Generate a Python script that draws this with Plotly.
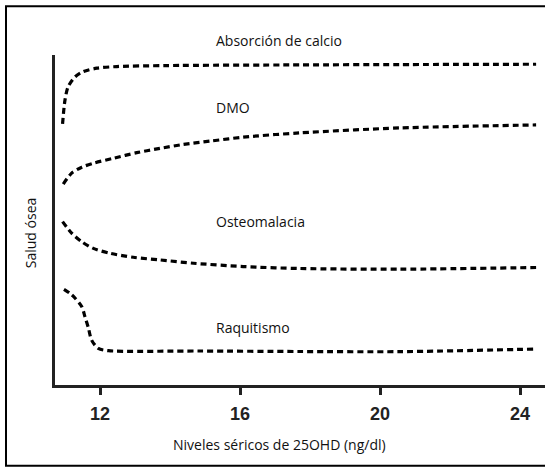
import plotly.graph_objects as go

# Data: serum 25OHD (ng/dl) vs relative bone health
abs_x = [10.93, 11.0, 11.09, 11.29, 11.51, 11.91, 12.48, 13.91, 17.71, 20.57, 24.46]
abs_y = [79.1, 86.4, 90.4, 93.4, 94.9, 96.0, 96.5, 96.8, 97.0, 97.1, 97.2]

dmo_x = [10.95, 11.19, 11.48, 11.81, 12.38, 13.05, 13.71, 14.38, 15.14, 16.09, 17.71, 20.57, 24.46]
dmo_y = [60.9, 64.2, 66.0, 67.2, 68.7, 70.4, 71.7, 72.9, 73.9, 75.1, 76.4, 77.9, 78.8]

ost_x = [10.93, 11.19, 11.48, 11.81, 12.29, 12.95, 13.71, 14.67, 16.09, 17.71, 20.57, 24.46]
ost_y = [49.5, 46.0, 43.4, 41.4, 39.9, 38.7, 37.9, 36.9, 35.9, 35.3, 35.1, 35.6]

raq_x = [10.97, 11.14, 11.29, 11.48, 11.57, 11.67, 11.76, 11.95, 12.24, 14.86, 17.71, 20.57, 24.46]
raq_y = [29.0, 27.8, 26.3, 23.7, 20.7, 17.2, 13.6, 11.1, 10.4, 10.3, 10.15, 10.1, 10.9]

series = [
    ("Absorción de calcio", abs_x, abs_y),
    ("DMO", dmo_x, dmo_y),
    ("Osteomalacia", ost_x, ost_y),
    ("Raquitismo", raq_x, raq_y),
]
# label anchor (left edge x in data units, vertical centre y in paper units)
label_pos = {
    "Absorción de calcio": (15.26, 1.045),
    "DMO": (15.26, 0.840),
    "Osteomalacia": (15.26, 0.494),
    "Raquitismo": (15.26, 0.173),
}
tick_vals = [12, 16, 20, 24]
tick_text = ["12", "16", "20", "24"]
x_title = "Niveles séricos de 25OHD (ng/dl)"
y_title = "Salud ósea"

fig = go.Figure()
for name, xs, ys in series:
    fig.add_trace(go.Scatter(
        x=xs, y=ys, mode="lines", name=name,
        line=dict(color="black", width=3.2, dash="6px,4px", shape="spline", smoothing=0.8),
        showlegend=False, hoverinfo="skip",
    ))
    lx, ly = label_pos[name]
    fig.add_annotation(x=lx, y=ly, xref="x", yref="paper", text=name, showarrow=False,
                       xanchor="left", yanchor="middle",
                       font=dict(family="Open Sans", size=14, color="#111"))

fig.add_annotation(x=0.459, y=-0.18, xref="paper", yref="paper", text=x_title,
                   showarrow=False, xanchor="center", yanchor="middle",
                   font=dict(family="Open Sans", size=14, color="#111"))
fig.add_annotation(x=-0.051, y=0.46, xref="paper", yref="paper", text=y_title,
                   showarrow=False, xanchor="center", yanchor="middle", textangle=-90,
                   font=dict(family="Open Sans", size=14, color="#111"))

# outer frame (left, top, bottom edges; right edge lies outside the picture)
fig.add_shape(type="path", xref="paper", yref="paper",
              path="M 1.3 -0.245 L -0.1 -0.245 L -0.1 1.148 L 1.3 1.148",
              line=dict(color="black", width=2), layer="below")

fig.update_layout(
    width=545, height=469,
    margin=dict(l=55, r=0, t=55, b=84),
    paper_bgcolor="white", plot_bgcolor="white",
    xaxis=dict(range=[10.714, 24.714], tickvals=tick_vals, ticktext=tick_text,
               showgrid=False, zeroline=False, showline=True, linecolor="#222", linewidth=2.5,
               ticks="outside", ticklen=7, tickwidth=2.5, tickcolor="#222",
               ticklabelstandoff=4,
               tickfont=dict(family="Liberation Sans", size=18, color="#222", weight="bold")),
    yaxis=dict(range=[0, 100], showgrid=False, zeroline=False, showline=True,
               linecolor="#222", linewidth=2.5, showticklabels=False, ticks=""),
)

fig.write_html("out.html", config={"displayModeBar": False},
               post_script="document.body.style.margin='0';document.body.style.overflow='hidden';")
